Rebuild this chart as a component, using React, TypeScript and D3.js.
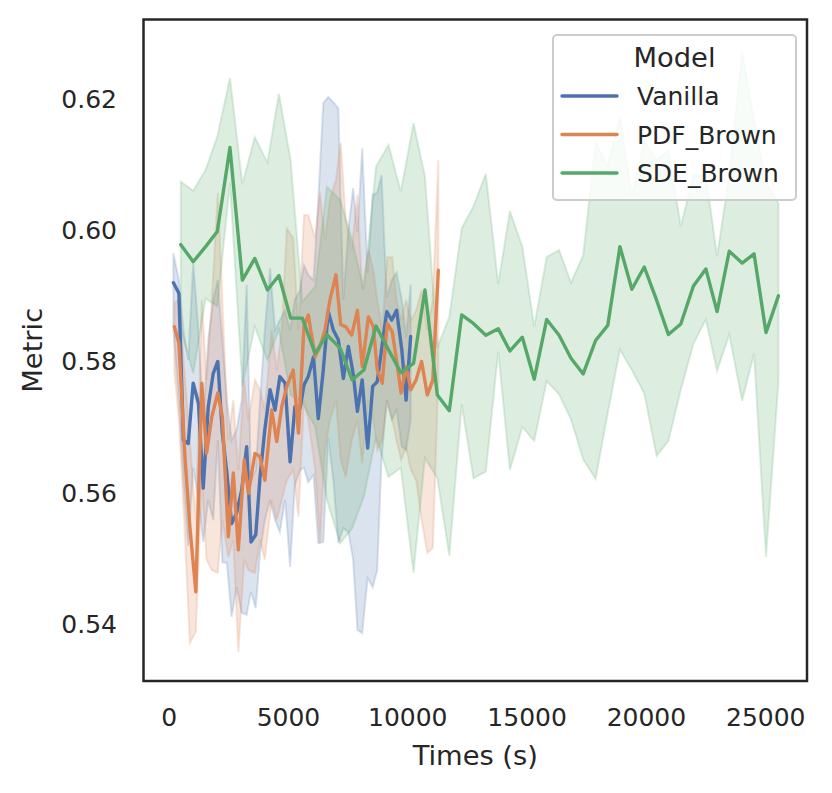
import * as d3 from 'd3'

// values
const blueTimes = [180, 410, 600, 800, 1010, 1230, 1430, 1640, 1850, 2040, 2230, 2420, 2620, 2830, 3040, 3250, 3430, 3630, 3810, 4010, 4230, 4440, 4640, 4860, 5070, 5270, 5490, 5650, 5830, 6050, 6250, 6460, 6670, 6880, 7090, 7300, 7510, 7710, 7890, 8090, 8320, 8530, 8720, 8900, 9120, 9330, 9530, 9750, 9930, 10120]
const blueMean = [0.592, 0.5904, 0.568, 0.5675, 0.5767, 0.5736, 0.5607, 0.5731, 0.5782, 0.58, 0.5691, 0.563, 0.5553, 0.5569, 0.5604, 0.567, 0.5525, 0.5536, 0.5624, 0.5696, 0.5757, 0.5726, 0.5777, 0.5767, 0.5647, 0.5731, 0.5729, 0.5764, 0.5777, 0.5807, 0.5713, 0.5787, 0.5876, 0.5848, 0.5833, 0.5774, 0.5823, 0.5782, 0.5724, 0.5772, 0.5668, 0.5762, 0.5769, 0.5818, 0.5876, 0.5863, 0.5878, 0.5818, 0.5741, 0.5838]
const blueHigh = [0.5965, 0.5924, 0.5848, 0.5802, 0.595, 0.5848, 0.5711, 0.5833, 0.5894, 0.5924, 0.5833, 0.5741, 0.568, 0.5696, 0.5741, 0.5917, 0.5619, 0.5635, 0.5741, 0.5848, 0.5942, 0.5848, 0.5863, 0.5878, 0.5848, 0.5894, 0.5909, 0.5947, 0.5932, 0.5924, 0.6046, 0.6194, 0.6203, 0.6195, 0.6186, 0.5894, 0.6, 0.6064, 0.5997, 0.6125, 0.5935, 0.6054, 0.6057, 0.6084, 0.5897, 0.5924, 0.5936, 0.5894, 0.5837, 0.5917]
const blueLow = [0.5848, 0.5741, 0.5619, 0.5519, 0.5638, 0.5589, 0.5525, 0.5589, 0.5558, 0.568, 0.5494, 0.5493, 0.5411, 0.5456, 0.5417, 0.5414, 0.5449, 0.5424, 0.5508, 0.5558, 0.5589, 0.5558, 0.554, 0.5589, 0.5487, 0.5612, 0.5635, 0.5638, 0.5616, 0.5627, 0.5523, 0.5525, 0.5683, 0.5619, 0.5523, 0.5546, 0.554, 0.5498, 0.5391, 0.5386, 0.547, 0.5456, 0.5482, 0.565, 0.5741, 0.5711, 0.5726, 0.567, 0.5665, 0.5711]

const orangeTimes = [220, 410, 670, 870, 1120, 1370, 1570, 1790, 2040, 2230, 2480, 2690, 2900, 3150, 3320, 3600, 3810, 4010, 4300, 4510, 4720, 4930, 5200, 5420, 5650, 5830, 6120, 6320, 6530, 6740, 6990, 7190, 7400, 7650, 7890, 8090, 8350, 8560, 8720, 8930, 9140, 9350, 9530, 9720, 9930, 10130, 10350, 10580, 10820, 11050, 11280]
const orangeMean = [0.5853, 0.5828, 0.565, 0.5548, 0.5449, 0.5767, 0.566, 0.5716, 0.5752, 0.5716, 0.5533, 0.563, 0.5513, 0.565, 0.5599, 0.566, 0.5655, 0.5619, 0.5726, 0.5678, 0.5731, 0.5762, 0.5787, 0.5691, 0.5853, 0.5871, 0.5807, 0.5823, 0.5848, 0.5894, 0.5932, 0.5856, 0.5853, 0.584, 0.5878, 0.5792, 0.5868, 0.5853, 0.5787, 0.5767, 0.5858, 0.5845, 0.5802, 0.5752, 0.5792, 0.5757, 0.5772, 0.58, 0.5749, 0.5772, 0.5939]
const orangeHigh = [0.5889, 0.5894, 0.5772, 0.568, 0.5558, 0.5894, 0.5772, 0.5894, 0.6057, 0.5894, 0.568, 0.5741, 0.5635, 0.5772, 0.5711, 0.5772, 0.5757, 0.5726, 0.5848, 0.5787, 0.5848, 0.6003, 0.5988, 0.5848, 0.6023, 0.6023, 0.5988, 0.6057, 0.5985, 0.6046, 0.6077, 0.6134, 0.6016, 0.597, 0.6054, 0.5909, 0.597, 0.5939, 0.5894, 0.5848, 0.5959, 0.5959, 0.5894, 0.5863, 0.5894, 0.5863, 0.5878, 0.5909, 0.5848, 0.5894, 0.6107]
const orangeLow = [0.5784, 0.5711, 0.5528, 0.5371, 0.5388, 0.5619, 0.5498, 0.5482, 0.5478, 0.5558, 0.5502, 0.5528, 0.5357, 0.5498, 0.5482, 0.5478, 0.5528, 0.5498, 0.5589, 0.5558, 0.5589, 0.5619, 0.5635, 0.5563, 0.5741, 0.5711, 0.5635, 0.5523, 0.5665, 0.5711, 0.5741, 0.565, 0.5624, 0.568, 0.5711, 0.5645, 0.5741, 0.5711, 0.5665, 0.568, 0.5741, 0.5711, 0.568, 0.565, 0.5668, 0.5635, 0.5619, 0.5558, 0.5508, 0.5516, 0.5772]

const greenTimes = [490, 1010, 1530, 2020, 2550, 3070, 3590, 4120, 4600, 5090, 5580, 6120, 6610, 7170, 7670, 8160, 8670, 9190, 9710, 10240, 10720, 11240, 11740, 12260, 12750, 13270, 13790, 14280, 14800, 15300, 15820, 16340, 16840, 17350, 17870, 18380, 18890, 19390, 19910, 20430, 20920, 21440, 21970, 22490, 22960, 23470, 24010, 24510, 25010, 25530]
const greenMean = [0.5978, 0.5952, 0.5975, 0.5998, 0.6126, 0.5924, 0.5957, 0.5909, 0.5931, 0.5866, 0.5866, 0.5812, 0.5841, 0.582, 0.5772, 0.5787, 0.5854, 0.5818, 0.5783, 0.5797, 0.5909, 0.5749, 0.5725, 0.5871, 0.5858, 0.584, 0.585, 0.5816, 0.5837, 0.5773, 0.5864, 0.584, 0.5805, 0.5781, 0.5832, 0.5855, 0.5975, 0.591, 0.5944, 0.5893, 0.5841, 0.5857, 0.5915, 0.5941, 0.5876, 0.5968, 0.595, 0.5964, 0.5844, 0.59]
const greenHigh = [0.6074, 0.606, 0.6092, 0.6143, 0.6232, 0.607, 0.6142, 0.6103, 0.6208, 0.6107, 0.5891, 0.5914, 0.6066, 0.6046, 0.5985, 0.5909, 0.6097, 0.613, 0.6059, 0.6163, 0.6082, 0.5821, 0.5868, 0.6003, 0.6036, 0.6086, 0.5918, 0.6029, 0.5975, 0.5853, 0.5959, 0.597, 0.592, 0.5962, 0.6133, 0.6099, 0.6173, 0.6053, 0.6136, 0.6107, 0.6122, 0.6006, 0.6084, 0.6084, 0.596, 0.6084, 0.6273, 0.6168, 0.6073, 0.6041]
const greenLow = [0.5848, 0.5782, 0.5896, 0.5884, 0.6072, 0.5762, 0.5853, 0.5802, 0.5848, 0.5749, 0.5737, 0.57, 0.5589, 0.5523, 0.5546, 0.5594, 0.5685, 0.5624, 0.5638, 0.5478, 0.5653, 0.5622, 0.5504, 0.5735, 0.5622, 0.5632, 0.5815, 0.5635, 0.57, 0.5679, 0.577, 0.575, 0.5712, 0.5651, 0.5621, 0.5722, 0.5818, 0.5787, 0.5751, 0.5656, 0.5679, 0.5757, 0.5827, 0.5864, 0.5786, 0.5841, 0.574, 0.5812, 0.5502, 0.5769]

const modelNames = ['Vanilla', 'PDF_Brown', 'SDE_Brown']
const modelColors = ['#4c72b0', '#dd8452', '#55a868']
const xTicks = [0, 5000, 10000, 15000, 20000, 25000]
const yTicks = [0.54, 0.56, 0.58, 0.6, 0.62]

interface Pt {
  t: number
  m: number
  lo: number
  hi: number
}

const zip = (t: number[], m: number[], lo: number[], hi: number[]): Pt[] =>
  t.map((d, i) => ({ t: d, m: m[i], lo: lo[i], hi: hi[i] }))

const series = [
  zip(blueTimes, blueMean, blueLow, blueHigh),
  zip(orangeTimes, orangeMean, orangeLow, orangeHigh),
  zip(greenTimes, greenMean, greenLow, greenHigh),
]

const W = 832
const H = 793
const margin = { top: 19.5, right: 25, bottom: 112, left: 143.5 }
const textColor = '#262626'
const font = '"DejaVu Sans", sans-serif'

export default function App() {
  const x = d3.scaleLinear().domain([-1073, 26728]).range([margin.left, W - margin.right])
  const y = d3.scaleLinear().domain([0.53131, 0.63211]).range([H - margin.bottom, margin.top])

  const band = d3
    .area<Pt>()
    .x((d) => x(d.t))
    .y0((d) => y(d.lo))
    .y1((d) => y(d.hi))

  const line = d3
    .line<Pt>()
    .x((d) => x(d.t))
    .y((d) => y(d.m))

  const [x0, x1] = x.range()
  const [yb, yt] = y.range()

  return (
    <svg width={W} height={H} style={{ position: 'absolute', left: 0, top: 0, background: '#fff' }} fontFamily={font}>
      <defs>
        <clipPath id="plot-clip">
          <rect x={x0} y={yt} width={x1 - x0} height={yb - yt} />
        </clipPath>
      </defs>

      <g clipPath="url(#plot-clip)">
        {series.map((s, i) => (
          <path
            key={`band-${i}`}
            d={band(s) ?? ''}
            fill={modelColors[i]}
            fillOpacity={0.2}
            stroke={modelColors[i]}
            strokeOpacity={0.2}
            strokeWidth={2}
          />
        ))}
        {series.map((s, i) => (
          <path
            key={`line-${i}`}
            d={line(s) ?? ''}
            fill="none"
            stroke={modelColors[i]}
            strokeWidth={3.4}
            strokeLinejoin="round"
            strokeLinecap="round"
          />
        ))}
      </g>

      {/* frame */}
      <rect x={x0} y={yt} width={x1 - x0} height={yb - yt} fill="none" stroke={textColor} strokeWidth={2.5} />

      {/* ticks */}
      {xTicks.map((t) => (
        <text key={`xt-${t}`} x={x(t)} y={726} textAnchor="middle" fontSize={25} fill={textColor}>
          {t}
        </text>
      ))}
      {yTicks.map((t) => (
        <text key={`yt-${t}`} x={117} y={y(t)} dy="0.36em" textAnchor="end" fontSize={25} fill={textColor}>
          {d3.format('.2f')(t)}
        </text>
      ))}

      {/* axis labels */}
      <text x={(x0 + x1) / 2} y={765} textAnchor="middle" fontSize={27.3} fill={textColor}>
        Times (s)
      </text>
      <text
        transform={`translate(42,${(yt + yb) / 2}) rotate(-90)`}
        textAnchor="middle"
        fontSize={27.3}
        fill={textColor}
      >
        Metric
      </text>

      {/* legend */}
      <g>
        <rect x={553} y={35} width={243} height={165} rx={4} fill="#fff" fillOpacity={0.8} stroke="#cccccc" strokeWidth={2} />
        <text x={674.5} y={67} textAnchor="middle" fontSize={27.3} fill={textColor}>
          Model
        </text>
        {modelNames.map((name, i) => {
          const ly = 96 + i * 38.5
          return (
            <g key={name}>
              <line x1={562} x2={617} y1={ly} y2={ly} stroke={modelColors[i]} strokeWidth={3.4} strokeLinecap="round" />
              <text x={637} y={ly} dy="0.36em" fontSize={25} fill={textColor}>
                {name}
              </text>
            </g>
          )
        })}
      </g>
    </svg>
  )
}
